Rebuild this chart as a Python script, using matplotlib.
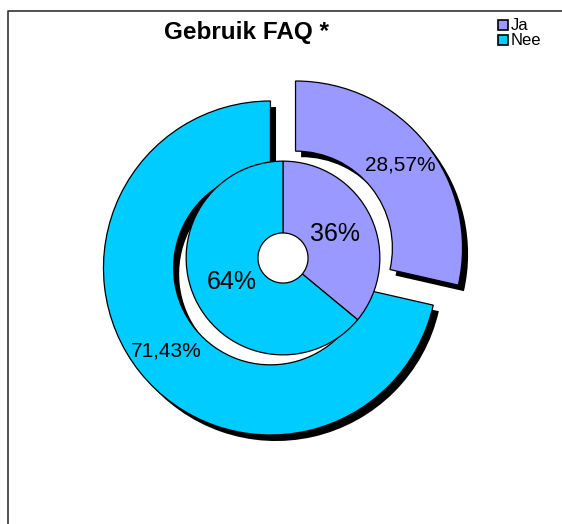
import matplotlib
matplotlib.use("Agg")
import matplotlib.pyplot as plt
from matplotlib.lines import Line2D
from matplotlib.patches import Rectangle

plt.rcParams['font.family'] = ['Liberation Sans', 'DejaVu Sans']

# data
labels = ["Ja", "Nee"]
outer_vals = [28.57, 71.43]   # outer ring
inner_vals = [36, 64]         # inner ring
colors = ["#9999FF", "#00CCFF"]
title = "Gebruik FAQ *"

W, H = 562, 524
cx, cy = 283, 258      # centre of the doughnut in pixels
scale = 167.0          # pixels per data unit (outer radius)

fig = plt.figure(figsize=(W / 100, H / 100), dpi=100)
ax = fig.add_axes([0, 0, 1, 1])

def fmt_comma(p):
    return f"{p:.2f}%".replace(".", ",")

# outer ring, exploded with a black shadow
outer, outer_txt, outer_pct = ax.pie(
    outer_vals, colors=colors, radius=1.0, startangle=90, counterclock=False,
    explode=[0.096, 0.096], autopct=fmt_comma, pctdistance=0.8,
    wedgeprops=dict(width=0.42, edgecolor="black", linewidth=0.9),
    shadow=dict(ox=0.024, oy=-0.026, facecolor="black", edgecolor="none", alpha=1),
    textprops=dict(fontsize=15))

# inner ring
inner, inner_txt, inner_pct = ax.pie(
    inner_vals, colors=colors, radius=0.58, startangle=90, counterclock=False,
    autopct="%1.0f%%", pctdistance=0.59,
    wedgeprops=dict(width=0.43, edgecolor="black", linewidth=0.9),
    textprops=dict(fontsize=18))

ax.set_xlim(-cx / scale, (W - cx) / scale)
ax.set_ylim(-(H - cy) / scale, cy / scale)
ax.set_aspect("auto")
ax.axis("off")

fig.text(246 / W, 1 - 32 / H, title, ha="center", va="center",
         fontsize=17.5, fontweight="bold")

# legend, drawn by hand to get the tight row pitch
for i, (lab, col) in enumerate(zip(labels, colors)):
    top = 20 + 15 * i
    fig.add_artist(Rectangle((498 / W, 1 - (top + 10) / H), 10 / W, 10 / H,
                             transform=fig.transFigure, facecolor=col,
                             edgecolor="black", lw=1.2))
    fig.text(511 / W, 1 - (top + 5.5) / H, lab, ha="left", va="center",
             fontsize=12)

# chart area border (left and top visible)
fig.add_artist(Line2D([7.5 / W, 7.5 / W, 1.0], [0, 1 - 10.5 / H, 1 - 10.5 / H],
                      transform=fig.transFigure, color="#333333", lw=1.2))

fig.savefig("out.png", dpi=100)
